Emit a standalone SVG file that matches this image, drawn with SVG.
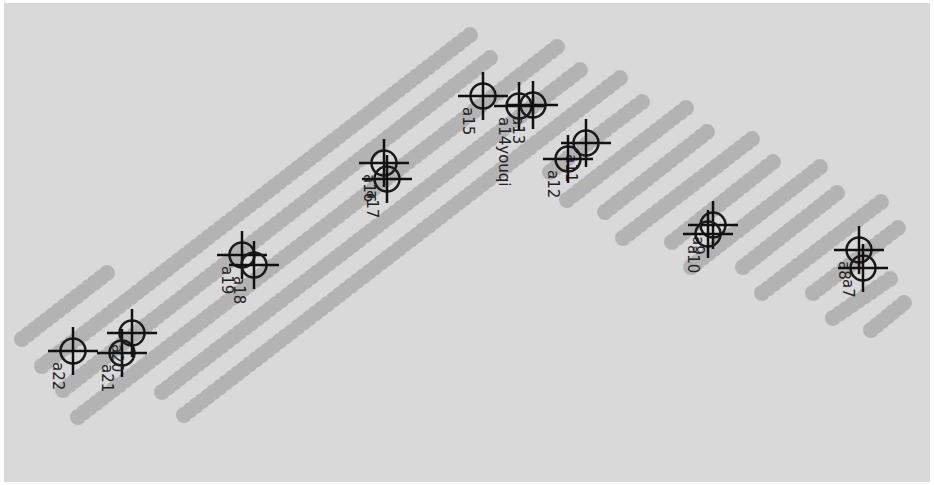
<svg xmlns="http://www.w3.org/2000/svg" width="934" height="485" viewBox="0 0 934 485">
<style>
.trk{fill:none;stroke:#b3b3b3;stroke-width:16;stroke-linecap:round;stroke-dasharray:0 1}
.ring{fill:none;stroke:#1a1a1a;stroke-width:2.5}
.hair{stroke:#111;stroke-width:2.5}
.lbl{font-family:"DejaVu Sans",sans-serif;font-size:15px;fill:#222}
</style>
<defs>
<g id="cross">
<circle class="ring" cx="0" cy="0" r="12.5"/>
<line class="hair" x1="-25" y1="0" x2="25" y2="0"/>
<line class="hair" x1="0" y1="-24" x2="0" y2="24"/>
</g>
</defs>
<rect x="0" y="0" width="934" height="485" fill="#ffffff"/>
<rect x="4" y="3" width="926" height="479" fill="#d9d9d9"/>
<g id="connectors">
<path class="trk" pathLength="14.01" d="M22 339L107 273"/>
<path class="trk" pathLength="72.01" d="M42 366L470 35"/>
<path class="trk" pathLength="72.01" d="M63 390L490 58"/>
<path class="trk" pathLength="81.01" d="M78 417L557 47"/>
<path class="trk" pathLength="70.01" d="M162 392L580 70"/>
<path class="trk" pathLength="73.01" d="M184 415L620 78"/>
<path class="trk" pathLength="15.01" d="M550 172L642 102"/>
<path class="trk" pathLength="20.01" d="M567 200L686 108"/>
<path class="trk" pathLength="17.01" d="M605 212L707 132"/>
<path class="trk" pathLength="22.01" d="M623 238L752 139"/>
<path class="trk" pathLength="17.01" d="M672 242L773 162"/>
<path class="trk" pathLength="22.01" d="M691 267L820 167"/>
<path class="trk" pathLength="16.01" d="M743 267L837 193"/>
<path class="trk" pathLength="20.01" d="M762 293L881 202"/>
<path class="trk" pathLength="14.01" d="M813 293L898 228"/>
<path class="trk" pathLength="9.01" d="M833 318L890 279"/>
<path class="trk" pathLength="6.01" d="M871 330L904 303"/>
</g>
<g id="a22"><use href="#cross" x="73" y="351"/><text class="lbl" transform="translate(53,362) rotate(90)">a22</text></g>
<g id="a21"><use href="#cross" x="122" y="353"/><text class="lbl" transform="translate(102,364) rotate(90)">a21</text></g>
<g id="a20"><use href="#cross" x="132" y="333"/><text class="lbl" transform="translate(112,344) rotate(90)">a20</text></g>
<g id="a19"><use href="#cross" x="242" y="255"/><text class="lbl" transform="translate(222,266) rotate(90)">a19</text></g>
<g id="a18"><use href="#cross" x="254" y="265"/><text class="lbl" transform="translate(234,276) rotate(90)">a18</text></g>
<g id="a16"><use href="#cross" x="384" y="163"/><text class="lbl" transform="translate(364,174) rotate(90)">a16</text></g>
<g id="a17"><use href="#cross" x="387" y="179"/><text class="lbl" transform="translate(367,190) rotate(90)">a17</text></g>
<g id="a15"><use href="#cross" x="483" y="96"/><text class="lbl" transform="translate(463,107) rotate(90)">a15</text></g>
<g id="a14youqi"><use href="#cross" x="519" y="106"/><text class="lbl" transform="translate(499,117) rotate(90)">a14youqi</text></g>
<g id="a13"><use href="#cross" x="533" y="105"/><text class="lbl" transform="translate(513,116) rotate(90)">a13</text></g>
<g id="a11"><use href="#cross" x="586" y="143"/><text class="lbl" transform="translate(566,154) rotate(90)">a11</text></g>
<g id="a12"><use href="#cross" x="568" y="159"/><text class="lbl" transform="translate(548,170) rotate(90)">a12</text></g>
<g id="a9"><use href="#cross" x="713" y="225"/><text class="lbl" transform="translate(693,236) rotate(90)">a9</text></g>
<g id="a10"><use href="#cross" x="708" y="234"/><text class="lbl" transform="translate(688,245) rotate(90)">a10</text></g>
<g id="a8"><use href="#cross" x="859" y="250"/><text class="lbl" transform="translate(839,261) rotate(90)">a8</text></g>
<g id="a7"><use href="#cross" x="863" y="268"/><text class="lbl" transform="translate(843,279) rotate(90)">a7</text></g>
</svg>
